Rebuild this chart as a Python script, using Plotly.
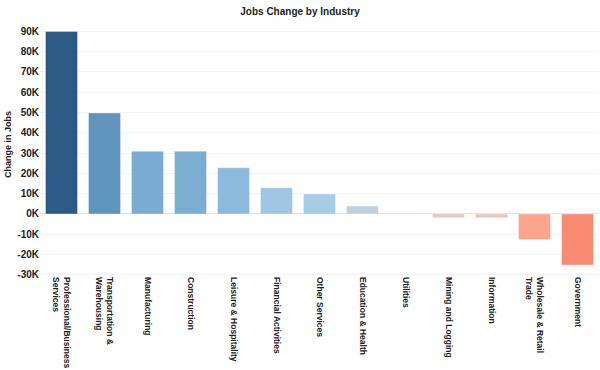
import plotly.graph_objects as go

categories = [
    "Professional/Business<br>Services",
    "Transportation &<br>Warehousing",
    "Manufacturing",
    "Construction",
    "Leisure & Hospitality",
    "Financial Activities",
    "Other Services",
    "Education & Health",
    "Utilities",
    "Mining and Logging",
    "Information",
    "Wholesale & Retail<br>Trade",
    "Government",
]
jobs_change = [89800, 49700, 30800, 30800, 22800, 12900, 9800, 3900, -200, -1800, -1800, -12500, -25100]
bar_colors = ["#2c5985", "#6193bf", "#7aabd0", "#7bacd1", "#8bbadc", "#a0c6e3", "#a6cce6",
              "#c3d1dc", "#f0dcdc", "#e8c6c0", "#e8c6c0", "#fca48d", "#f98b72"]
tick_vals = [90000, 80000, 70000, 60000, 50000, 40000, 30000, 20000, 10000, 0, -10000, -20000, -30000]
tick_text = ["90K", "80K", "70K", "60K", "50K", "40K", "30K", "20K", "10K", "0K", "-10K", "-20K", "-30K"]

FONT = "Liberation Sans, Arial, sans-serif"

fig = go.Figure(go.Bar(
    x=categories,
    y=jobs_change,
    marker=dict(color=bar_colors, line=dict(color="rgba(255,255,255,0.35)", width=1)),
))

fig.update_layout(
    width=600, height=370,
    margin=dict(l=40, r=1, t=30, b=94),
    paper_bgcolor="white", plot_bgcolor="white",
    bargap=0.256,
    showlegend=False,
    title=dict(text="Jobs Change by Industry", x=0.5, xanchor="center",
               y=1 - 11 / 370, yanchor="middle", yref="container",
               font=dict(family=FONT, size=10, color="#222", weight="bold")),
    font=dict(family=FONT, color="#222"),
)

fig.update_xaxes(
    automargin=False,
    tickangle=90,
    tickfont=dict(family=FONT, size=8.5, color="#222", weight="bold"),
    showgrid=False, showline=False, ticks="",
)
fig.update_yaxes(
    automargin=False,
    range=[-30500, 90500],
    tickvals=tick_vals, ticktext=tick_text,
    tickfont=dict(family=FONT, size=10, color="#222", weight="bold"),
    showgrid=True, gridcolor="#f3f3f3", gridwidth=1,
    zeroline=True, zerolinecolor="#e4e4e4", zerolinewidth=1,
    showline=False, ticks="",
)

fig.add_annotation(
    text="Change in Jobs", textangle=-90,
    xref="paper", yref="paper", x=(8 - 40) / 559, y=(276 - 145) / 246,
    xanchor="center", yanchor="middle", showarrow=False,
    font=dict(family=FONT, size=9, color="#222", weight="bold"),
)

fig.write_html(
    "out.html",
    config={"displayModeBar": False},
    post_script="document.body.style.margin='0';document.body.style.overflow='hidden';",
)
